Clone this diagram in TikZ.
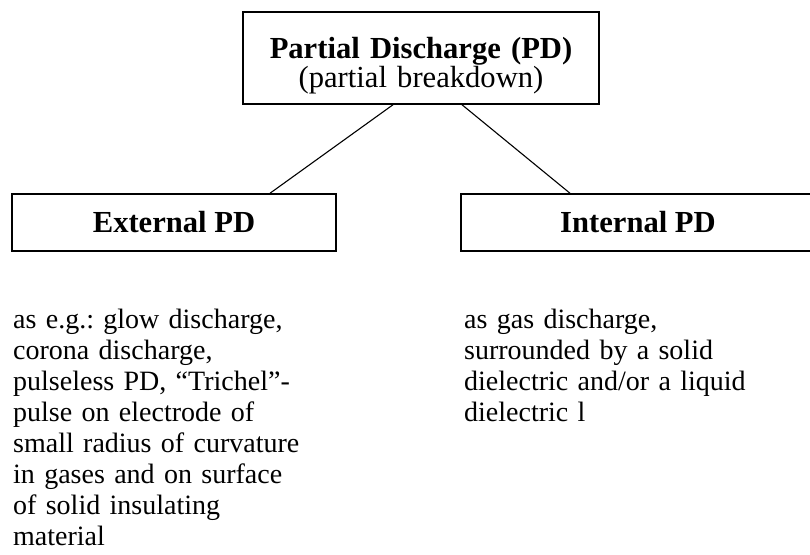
\documentclass[tikz,border=0pt]{standalone}
\usepackage{fontspec}
\setmainfont{Liberation Serif}
\frenchspacing
\begin{document}
\begin{tikzpicture}[x=1pt,y=-1pt,
  boxstyle/.style={draw=black,line width=1.5pt,rectangle,inner sep=0pt,
    font=\fontsize{30.6}{29}\selectfont\bfseries},
  linkstyle/.style={draw=black,line width=1.1pt},
  bodytext/.style={anchor=base west,inner sep=0pt,text width=330pt,align=left,
    font=\fontsize{28}{31}\selectfont},
  titletext/.style={anchor=base,inner sep=0pt,text width=350pt,align=center,
    font=\fontsize{30.6}{29}\selectfont}]
\path[fill=white,use as bounding box] (0,0) rectangle (810,554);
% top box
\node[boxstyle,minimum width=356pt,minimum height=92pt] (top) at (421,58) {};
\node[titletext] (toptext) at (421,58) {\textbf{Partial Discharge (PD)}\\(partial breakdown)};
% lower boxes
\node[boxstyle,minimum width=324pt,minimum height=57pt] (ext) at (174,222.5) {External PD};
\node[boxstyle,minimum width=354pt,minimum height=57pt] (int) at (638,222.5) {Internal PD};
% connectors
\draw[linkstyle] ([xshift=-28pt]top.south) -- ([xshift=96pt]ext.north);
\draw[linkstyle] ([xshift=41pt]top.south) -- ([xshift=-68pt]int.north);
% descriptions
\node[bodytext] (extdesc) at (13,328) {as e.g.: glow discharge,\\corona discharge,\\pulseless PD, “Trichel”-\\pulse on electrode of\\small radius of curvature\\in gases and on surface\\of solid insulating\\material};
\node[bodytext] (intdesc) at (464,328) {as gas discharge,\\surrounded by a solid\\dielectric and/or a liquid\\dielectric l};
\end{tikzpicture}
\end{document}
